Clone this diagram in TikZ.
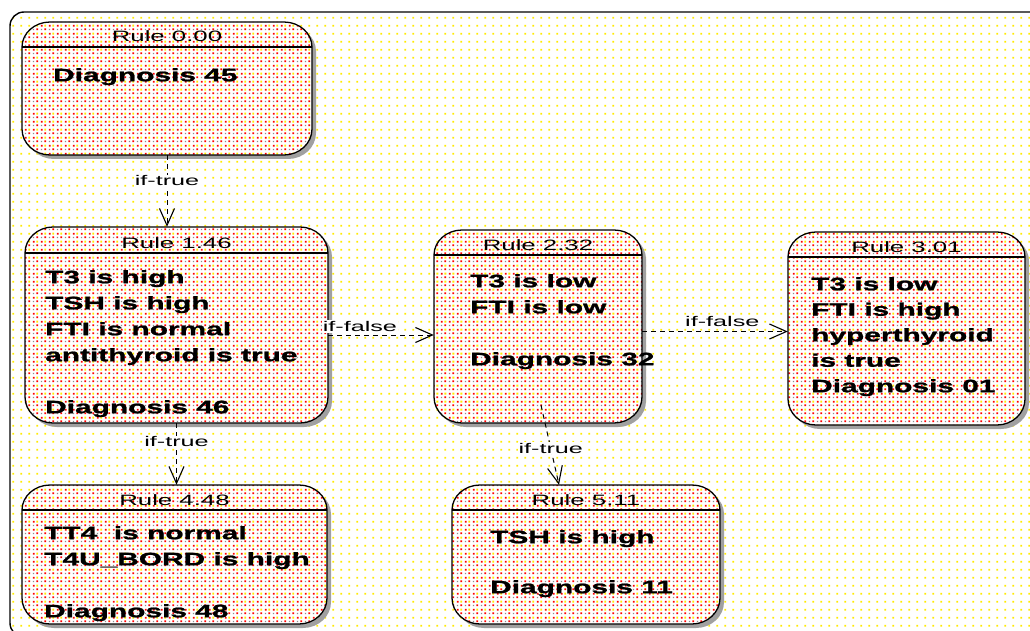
\documentclass[tikz,border=0pt]{standalone}
\usepackage{fontspec}
\setmainfont{Liberation Sans}
\newfontfamily\bodyfont[UprightFont={* Bold},FakeStretch=1.66,FakeBold=1.2]{Liberation Sans}
\newfontfamily\titlefont[FakeStretch=1.72]{Liberation Sans}
\newfontfamily\labelfont[FakeStretch=1.8]{Liberation Sans}
\usetikzlibrary{arrows.meta,fit,patterns}

\definecolor{dotyellow}{RGB}{255,235,0}
\definecolor{dotred}{RGB}{255,0,0}
\definecolor{dotgray}{RGB}{140,140,140}
\definecolor{boxshadow}{RGB}{160,160,160}

% sheet background: sparse yellow dots
\pgfdeclarepatternformonly{bgdots}{\pgfpointorigin}{\pgfpoint{8pt}{8pt}}{\pgfpoint{8pt}{8pt}}{%
  \pgfpathrectangle{\pgfpoint{5pt}{5pt}}{\pgfpoint{2pt}{2pt}}\pgfusepath{fill}}
% rule boxes: red, gray and yellow stipple
\pgfdeclarepatterninherentlycolored{boxdots}{\pgfpointorigin}{\pgfpoint{8pt}{8pt}}{\pgfpoint{8pt}{8pt}}{%
  \pgfsetfillcolor{dotyellow}\pgfpathrectangle{\pgfpoint{5pt}{5pt}}{\pgfpoint{2pt}{2pt}}\pgfusepath{fill}%
  \pgfsetfillcolor{dotred}\pgfpathrectangle{\pgfpoint{1pt}{5pt}}{\pgfpoint{1.9pt}{1.9pt}}%
  \pgfpathrectangle{\pgfpoint{5pt}{1pt}}{\pgfpoint{1.9pt}{1.9pt}}\pgfusepath{fill}%
  \pgfsetfillcolor{dotgray}\pgfpathrectangle{\pgfpoint{1pt}{1pt}}{\pgfpoint{1.5pt}{1.5pt}}\pgfusepath{fill}}

% outline of a rule box: x1, y1, x2, y2, y of the header line
\newcommand\boxoutline[5]{%
 (#1,#5) .. controls (#1,{#2+0.45*(#5-(#2))}) and ({#1+12.6},#2) .. ({#1+28},#2)
 -- ({#3-28},#2) .. controls ({#3-12.6},#2) and (#3,{#2+0.45*(#5-(#2))}) .. (#3,#5)
 -- (#3,{#4-26}) .. controls (#3,{#4-11.7}) and ({#3-12.6},#4) .. ({#3-28},#4)
 -- ({#1+28},#4) .. controls ({#1+12.6},#4) and (#1,{#4-11.7}) .. (#1,{#4-26}) -- cycle}

% a rule box: name, x1, y1, x2, y2, header y, title
\newcommand\rulebox[7]{%
  \fill[boxshadow] \boxoutline{#2+4}{#3+4}{#4+4}{#5+4}{#6+4};
  \fill[white] \boxoutline{#2}{#3}{#4}{#5}{#6};
  \path[pattern=boxdots] \boxoutline{#2}{#3}{#4}{#5}{#6};
  \draw[boxline] \boxoutline{#2}{#3}{#4}{#5}{#6};
  \draw[boxline] (#2,#6) -- (#4,#6);
  \node[fit={(#2,#3) (#4,#5)}, inner sep=0pt] (#1) {};
  \node[titletext] (#1-title) at ({(#2+#4)/2},{#6-5}) {#7};
}

\tikzset{
  boxline/.style={draw=black, line width=1.3pt},
  titletext/.style={anchor=base, inner sep=0pt, font=\titlefont\fontsize{15}{17}\selectfont},
  bodytext/.style={anchor=north west, inner sep=0pt, align=left,
    font=\bodyfont\fontsize{18}{26}\selectfont},
  edge/.style={draw=black, line width=1pt, dash pattern=on 5pt off 4pt,
    -{Straight Barb[length=17pt,width=15pt,line width=1.1pt]}},
  lbl/.style={fill=white, inner sep=1pt, font=\labelfont\fontsize{14}{16}\selectfont},
}

\begin{document}
\begin{tikzpicture}[x=1pt,y=-1pt]
  \useasboundingbox (0,0) rectangle (1030,631);
  \clip (0,0) rectangle (1030,631);
  \fill[white] (0,0) rectangle (1030,631);

  % sheet frame
  \fill[white, rounded corners=14pt] (10,12) rectangle (1046,637);
  \draw[line width=1.4pt, rounded corners=14pt, pattern=bgdots, pattern color=dotyellow]
    (10,12) rectangle (1046,637);

  % rule boxes
  \rulebox{r0}{22}{22}{312}{155}{47}{Rule 0.00}
  \rulebox{r1}{25}{227}{328}{423}{253}{Rule 1.46}
  \rulebox{r2}{434}{230}{642}{423}{255}{Rule 2.32}
  \rulebox{r3}{788}{232}{1025}{425}{257}{Rule 3.01}
  \rulebox{r4}{22}{485}{327}{624}{510}{Rule 4.48}
  \rulebox{r5}{452}{485}{720}{624}{510}{Rule 5.11}

  % rule contents
  \node[bodytext] (r0-text) at (53,68) {Diagnosis 45};
  \node[bodytext] (r1-text) at (45,270)
    {T3 is high\\TSH is high\\FTI is normal\\antithyroid is true\\[26pt]Diagnosis 46};
  \node[bodytext] (r2-text) at (470,274) {T3 is low\\FTI is low\\[26pt]Diagnosis 32};
  \node[bodytext, font=\bodyfont\fontsize{18}{25.5}\selectfont] (r3-text) at (811,277)
    {T3 is low\\FTI is high\\hyperthyroid\\is true\\Diagnosis 01};
  \node[bodytext] (r4-text) at (44,526) {TT4~ is normal\\T4U\_BORD is high\\[26pt]Diagnosis 48};
  \node[bodytext, font=\bodyfont\fontsize{18}{25}\selectfont] (r5-text) at (490,530)
    {TSH is high\\[25pt]Diagnosis 11};

  % connectors
  \draw[edge] (r0.south) -- (r0.south |- r1.north)
    node[lbl, pos=0.36] (e01) {if-true};
  \draw[edge] ([yshift=-10pt]r1.east) -- ([yshift=-10pt]r1.east -| r2.west)
    node[lbl, pos=0.3, anchor=south, yshift=2pt] (e12) {if-false};
  \draw[edge] ([yshift=-5pt]r2.east) -- ([yshift=-5pt]r2.east -| r3.west)
    node[lbl, pos=0.55, anchor=south, yshift=3pt] (e23) {if-false};
  \draw[edge] (r1.south) -- (r1.south |- r4.north)
    node[lbl, pos=0.3] (e14) {if-true};
  \draw[edge] ([xshift=3pt,yshift=18pt]r2.south) -- ([xshift=-27pt]r5.north)
    node[lbl, pos=0.54] (e25) {if-true};
\end{tikzpicture}
\end{document}
